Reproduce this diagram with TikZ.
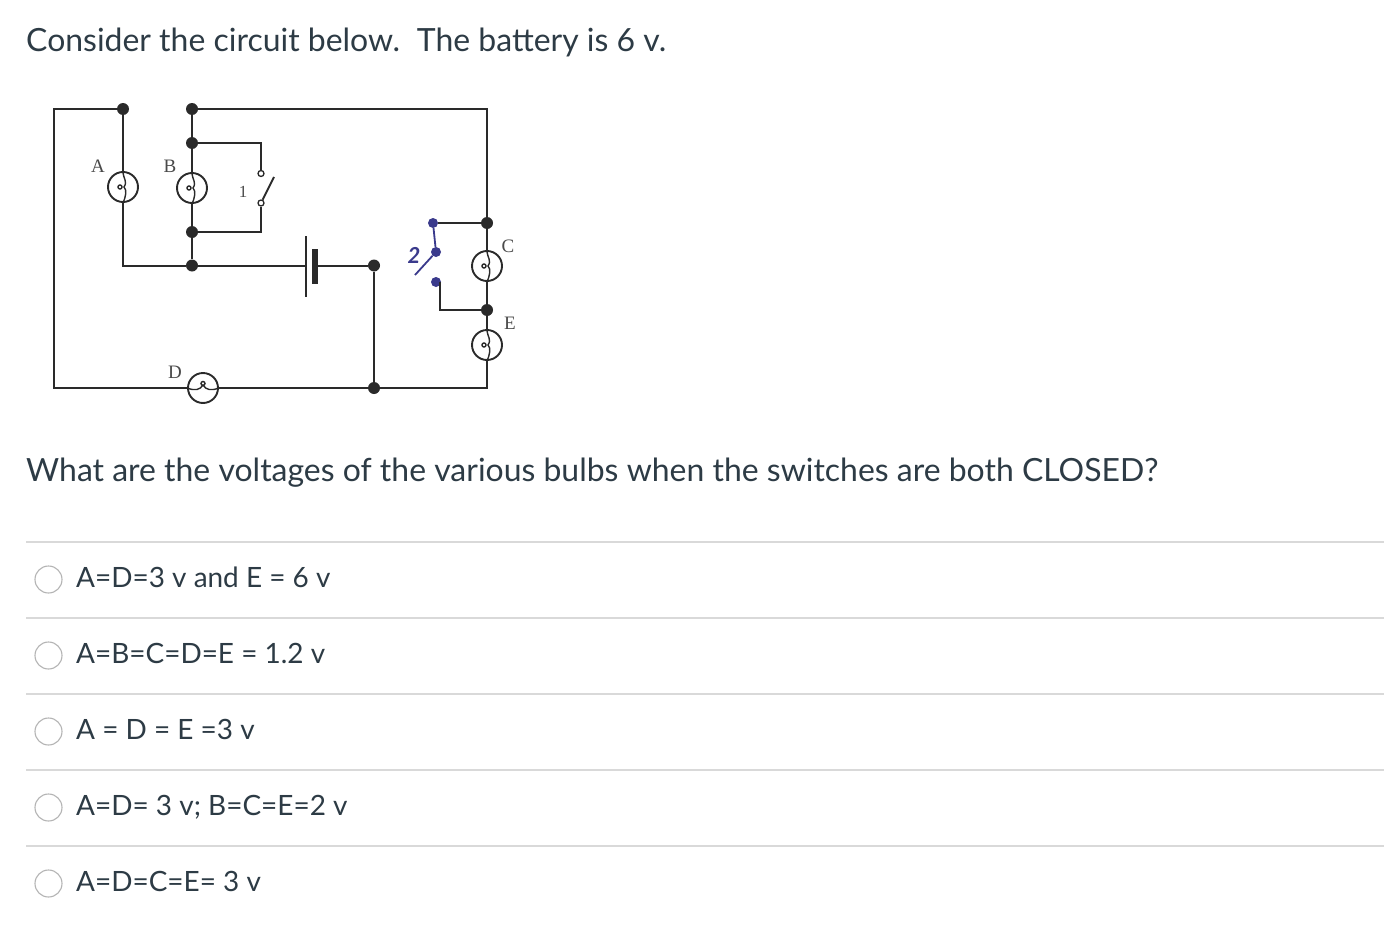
\documentclass[tikz,border=0pt]{standalone}
\usepackage{fontspec}
\setmainfont{Lato}
\newfontfamily\circfont{Liberation Serif}
\definecolor{txt}{HTML}{2D3B45}
\definecolor{rule}{HTML}{D9D9D9}
\definecolor{wire}{HTML}{2A2A2A}
\definecolor{ink}{HTML}{3A3A8C}
\definecolor{radio}{HTML}{B4B4B4}
\definecolor{lbl}{HTML}{4A4A4A}
\tikzset{
  x=1pt,y=-1pt,
  heading/.style={font=\fontsize{31.95}{38}\selectfont,text=txt,anchor=base west,inner sep=0pt},
  option/.style={font=\fontsize{27.95}{34}\selectfont,text=txt,anchor=base west,inner sep=0pt},
  optline/.style={draw=rule,line width=1.6pt},
  radiobtn/.style={circle,draw=radio,fill=white,line width=1.1pt,minimum size=27pt,inner sep=0pt},
  wiring/.style={draw=wire,line width=2pt},
  junction/.style={circle,fill=wire,minimum size=12pt,inner sep=0pt},
  inkdot/.style={circle,fill=ink,minimum size=10pt,inner sep=0pt},
  lamp/.style={circle,draw=wire,line width=1.9pt,minimum size=30pt,inner sep=0pt},
  term/.style={circle,draw=wire,line width=1.3pt,fill=white,minimum size=6pt,inner sep=0pt},
  clabel/.style={font=\circfont\fontsize{19}{20}\selectfont,text=lbl,inner sep=0pt},
  filament/.style={draw=wire,line width=1.4pt},
}
\newcommand{\filv}[1]{%
  \draw[filament] (#1.north) .. controls ([xshift=0pt,yshift=8pt]#1.center) and ([xshift=5pt,yshift=6pt]#1.center) .. ([xshift=1pt,yshift=0pt]#1.center) .. controls ([xshift=4pt,yshift=-3pt]#1.center) and ([xshift=3pt,yshift=-9pt]#1.center) .. (#1.south);
  \draw[filament] ([xshift=-3pt]#1.center) circle (2pt);}
\begin{document}
\begin{tikzpicture}
\useasboundingbox (0,0) rectangle (1384,934);
\fill[white] (0,0) rectangle (1384,934);

\node[heading] (title) at (26,51.5) {Consider the circuit below.\hspace{0.53em}The battery is 6 v.};
\node[heading] (question) at (26,481) {What are the voltages of the various bulbs when the switches are both CLOSED?};

% circuit anchors
\coordinate (tl) at (54,109);
\coordinate (bl) at (54,388);
\coordinate (br) at (487,388);
\coordinate (tr) at (487,109);
\coordinate (ac) at (123,265.5);
\coordinate (sw1t) at (261,143);
\coordinate (sw1b) at (261,232);
\coordinate (sw1tip) at (274,177);
\coordinate (sw2c) at (440,310);
\coordinate (sw2tip) at (415,275);
\coordinate (sw2u) at (440,282);
\coordinate (plateL) at (306,265.5);
\coordinate (plateS) at (315,265.5);
\coordinate (plateLt) at (306,236);
\coordinate (plateLb) at (306,297);
\coordinate (plateSt) at (315,249);
\coordinate (plateSb) at (315,284);

\node[junction] (ja) at (123,109) {};
\node[junction] (jb) at (192,109) {};
\node[junction] (jb1) at (192,143) {};
\node[junction] (jb2) at (192,232) {};
\node[junction] (jb3) at (192,265.5) {};
\node[junction] (jbat) at (374,265.5) {};
\node[junction] (jlow) at (374,388) {};
\node[junction] (jc1) at (487,223) {};
\node[junction] (jc2) at (487,310) {};

\node[lamp] (A) at (123,187) {};
\node[lamp] (B) at (192,188) {};
\node[lamp] (C) at (487,266) {};
\node[lamp] (E) at (487,345) {};
\node[lamp] (D) at (203,388) {};

\node[term] (t1a) at (261,173.5) {};
\node[term] (t1b) at (261,203) {};
\node[inkdot] (i1) at (433,223) {};
\node[inkdot] (i2) at (436,252) {};
\node[inkdot] (i3) at (436,282) {};

\draw[wiring] (ja) -- (tl) -- (bl) -- (D);
\draw[wiring] (ja) -- (A);
\draw[wiring] (A) -- (ac) -- (jb3);
\draw[wiring] (jb) -- (jb1) -- (B);
\draw[wiring] (B) -- (jb2) -- (jb3);
\draw[wiring] (jb) -- (tr) -- (jc1) -- (C);
\draw[wiring] (C) -- (jc2) -- (E);
\draw[wiring] (E) -- (br) -- (jlow) -- (D);
\draw[wiring] (jb3) -- (plateL);
\draw[wiring] (plateS) -- (jbat) -- (jlow);
\draw[wiring] (jb1) -- (sw1t) -- (t1a);
\draw[wiring] (jb2) -- (sw1b) -- (t1b);
\draw[wiring] (jc2) -- (sw2c) -- (sw2u);
\draw[wiring] (jc1) -- (i1);

\filv{A}\filv{B}\filv{C}\filv{E}
\draw[filament] (D.west) .. controls ([xshift=-8pt,yshift=-3pt]D.center) and ([xshift=-3pt,yshift=-2pt]D.center) .. ([yshift=3pt]D.center) .. controls ([xshift=3pt,yshift=-2pt]D.center) and ([xshift=8pt,yshift=-3pt]D.center) .. (D.east);
\draw[filament] ([yshift=4.5pt]D.center) circle (2pt);

% battery
\draw[wire,line width=2pt] (plateLt) -- (plateLb);
\draw[wire,line width=6pt] (plateSt) -- (plateSb);

% switch 1
\draw[wire,line width=1.8pt] (t1b) -- (sw1tip);

% switch 2 (hand-inked)
\draw[ink,line width=1.8pt] (i1) -- (i2) -- (sw2tip);
\node[font=\fontsize{22}{24}\selectfont\bfseries\itshape,text=ink,inner sep=0pt] (two) at (414,255) {2};

\node[clabel] (la) at (98,166) {A};
\node[clabel] (lb) at (170,166) {B};
\node[clabel,font=\circfont\fontsize{17}{18}\selectfont] (l1) at (243,192) {1};
\node[clabel] (lc) at (508,246) {C};
\node[clabel] (le) at (510,323) {E};
\node[clabel] (ld) at (175,372) {D};

% answer rules
\foreach \y/\n in {542/a,618/b,694/c,770/d,846/e}{
  \coordinate (r\n) at (26,\y);
  \coordinate (s\n) at (1384,\y);
  \draw[optline] (r\n) -- (s\n);
}
\node[radiobtn] (o1) at (48.5,579.5) {};
\node[radiobtn] (o2) at (48.5,655.5) {};
\node[radiobtn] (o3) at (48.5,731.5) {};
\node[radiobtn] (o4) at (48.5,807.5) {};
\node[radiobtn] (o5) at (48.5,883.5) {};
\node[option] (t1) at (76,587) {A=D=3 v and E = 6 v};
\node[option] (t2) at (76,663) {A=B=C=D=E = 1.2 v};
\node[option] (t3) at (76,739) {A = D = E =3 v};
\node[option] (t4) at (76,815) {A=D= 3 v; B=C=E=2 v};
\node[option] (t5) at (76,891) {A=D=C=E= 3 v};
\end{tikzpicture}
\end{document}
